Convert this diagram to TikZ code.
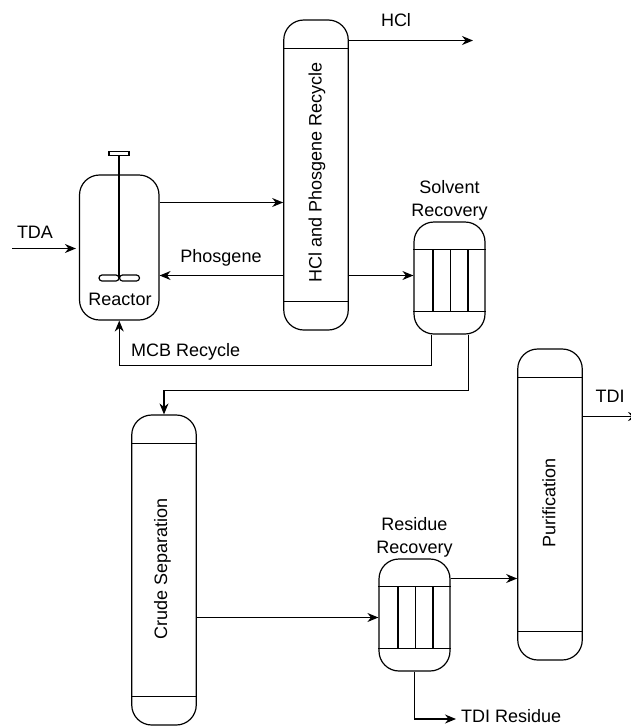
\documentclass[tikz,border=0pt]{standalone}
\usepackage{fontspec}
\setmainfont{Liberation Sans}
\usetikzlibrary{arrows.meta,calc,positioning}

\tikzset{
  unit/.style={draw=black,line width=1.2pt,rectangle,rounded corners=20pt,inner sep=0pt},
  tower/.style={unit,minimum width=64.5pt},
  exchanger/.style={unit,minimum width=71pt,minimum height=112pt},
  flow/.style={line width=1.2pt,-{Stealth[length=11pt,width=9pt]}},
  pipe/.style={line width=1.2pt},
  tag/.style={inner sep=0pt,align=center,font=\fontsize{18}{23}\selectfont}
}

\begin{document}
\begin{tikzpicture}[x=1pt,y=-1pt]
  \useasboundingbox (0,0) rectangle (630,726);

  % equipment
  \node[unit,minimum width=79.5pt,minimum height=145pt] (reactor) at (119.25,247.5) {};
  \node[tower,minimum height=310pt] (hclcol) at (316,175) {};
  \node[exchanger] (solvent) at (449.5,278) {};
  \node[tower,minimum height=310pt] (crudecol) at (164,570) {};
  \node[exchanger] (residue) at (414.5,615) {};
  \node[tower,minimum height=311pt] (purifcol) at (550,504.5) {};

  % stirrer
  \node[draw,line width=1.2pt,minimum width=20pt,minimum height=4.5pt,inner sep=0pt] (handle) at (119,153.5) {};
  \node[draw,line width=1.2pt,rounded corners=3pt,minimum width=20pt,minimum height=6pt,inner sep=0pt] (bladel) at (109,278) {};
  \node[draw,line width=1.2pt,rounded corners=3pt,minimum width=20pt,minimum height=6pt,inner sep=0pt] (blader) at (129.5,278) {};
  \draw[pipe] (handle.south) -- (handle.south |- bladel.east);

  % trays
  \foreach \col in {hclcol,crudecol,purifcol} {
    \draw[pipe] ([yshift=-29pt]\col.north west) -- ([yshift=-29pt]\col.north east);
    \draw[pipe] ([yshift=29pt]\col.south west) -- ([yshift=29pt]\col.south east);
  }
  \foreach \hx in {solvent,residue} {
    \draw[pipe] ([yshift=-28pt]\hx.north west) -- ([yshift=-28pt]\hx.north east);
    \draw[pipe] ([yshift=23pt]\hx.south west) -- ([yshift=23pt]\hx.south east);
    \foreach \dx in {19.5,37,54.5} {
      \draw[pipe] ([xshift=\dx pt,yshift=-28pt]\hx.north west) -- ([xshift=\dx pt,yshift=23pt]\hx.south west);
    }
  }

  % labels
  \node[tag] (reactorlabel) at (120,299) {Reactor};
  \node[tag,rotate=90] (hcllabel) at (317,172) {HCl and Phosgene Recycle};
  \node[tag,rotate=90] (crudelabel) at (162.5,568.5) {Crude Separation};
  \node[tag,rotate=90] (puriflabel) at (549,503) {Purification};
  \node[tag,above=1pt of solvent] (solventlabel) {Solvent\\Recovery};
  \node[tag,above=1pt of residue] (residuelabel) {Residue\\Recovery};
  \node[tag] (tdalabel) at (35,232) {TDA};
  \node[tag] (hcltag) at (396,20) {HCl};
  \node[tag] (phosgenelabel) at (221,258) {Phosgene};
  \node[tag,anchor=west] (mcblabel) at (131,352) {MCB Recycle};
  \node[tag] (tditag) at (610,396) {TDI};
  \node[tag,anchor=west] (residuetag) at (461,716) {TDI Residue};

  % free ends
  \coordinate (tdain) at (12,248.5);
  \coordinate (hclout) at (473,40.5);
  \coordinate (tdiout) at (639,416.5);
  \coordinate (residueout) at (456,719);
  \coordinate (solventbend) at (431.5,365.5);
  \coordinate (crudebend) at (468.5,390.5);

  % streams
  \draw[flow] (tdain) -- ([xshift=-3pt]tdain -| reactor.west);
  \draw[flow] ([yshift=45pt]reactor.east) -- ([yshift=45pt]reactor.east -| hclcol.west);
  \draw[flow] ([yshift=-28pt]reactor.east -| hclcol.west) -- ([yshift=-28pt]reactor.east);
  \draw[flow] (hclcol.east |- hclout) -- (hclout);
  \draw[flow] ([yshift=2.5pt]solvent.west -| hclcol.east) -- ([yshift=2.5pt]solvent.west);
  \draw[flow] (solventbend |- solvent.south) -- (solventbend) -| (reactor.south);
  \draw[flow] (crudebend |- solvent.south) -- (crudebend) -| (crudecol.north);
  \draw[flow] ([yshift=-47.5pt]crudecol.east) -- ([yshift=-47.5pt]crudecol.east -| residue.west);
  \draw[flow] ([yshift=36.5pt]residue.east) -- ([yshift=36.5pt]residue.east -| purifcol.west);
  \draw[flow] (residue.south) |- (residueout);
  \draw[flow] (purifcol.east |- tdiout) -- (tdiout);
\end{tikzpicture}
\end{document}
